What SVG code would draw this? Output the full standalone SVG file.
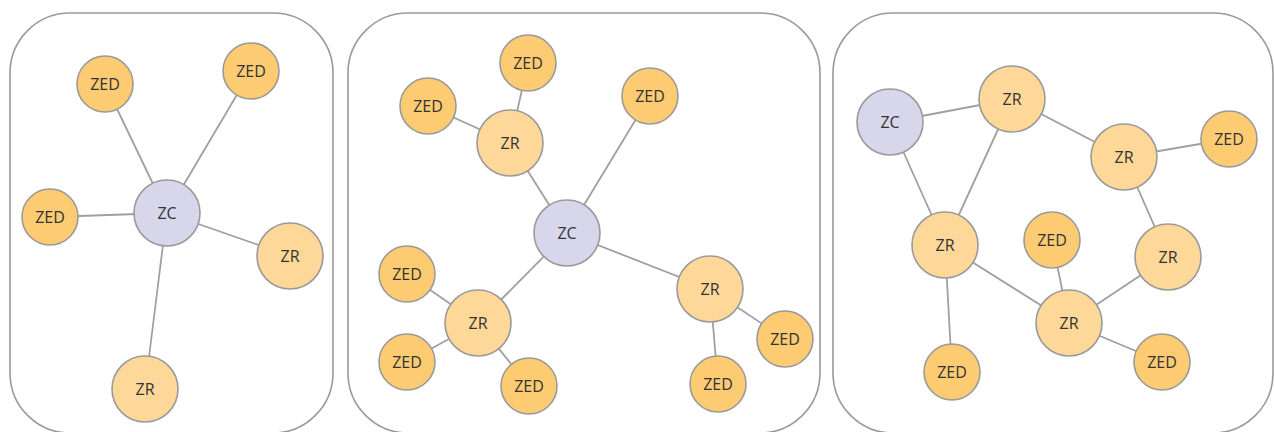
<svg xmlns="http://www.w3.org/2000/svg" width="1274" height="432" viewBox="0 0 1274 432">
<style>
.box{fill:none;stroke:#9a9a9a;stroke-width:1.6}
.e line{stroke:#a0a0a0;stroke-width:1.8}
.zed{fill:#fdcb72;stroke:#9a9a9a;stroke-width:1.6}
.zr{fill:#fed898;stroke:#9a9a9a;stroke-width:1.6}
.zc{fill:#d8d6ea;stroke:#9a9a9a;stroke-width:1.6}
text{font-family:"Open Sans","Liberation Sans",sans-serif;font-size:16px;fill:#333;text-anchor:middle;dominant-baseline:central}
</style>
<rect id="panel1" class="box" x="10" y="13" width="323" height="420" rx="60"/>
<rect id="panel2" class="box" x="348" y="13" width="472" height="420" rx="60"/>
<rect id="panel3" class="box" x="833" y="13" width="440" height="420" rx="60"/>
<g id="connectors" class="e">
<line x1="167" y1="213" x2="105" y2="84"/>
<line x1="167" y1="213" x2="251" y2="71"/>
<line x1="167" y1="213" x2="50" y2="217"/>
<line x1="167" y1="213" x2="290" y2="256"/>
<line x1="167" y1="213" x2="145" y2="389"/>
<line x1="510" y1="143" x2="528" y2="63"/>
<line x1="510" y1="143" x2="428" y2="106"/>
<line x1="510" y1="143" x2="567" y2="233"/>
<line x1="567" y1="233" x2="650" y2="96"/>
<line x1="567" y1="233" x2="478" y2="323"/>
<line x1="567" y1="233" x2="710" y2="289"/>
<line x1="478" y1="323" x2="407" y2="274"/>
<line x1="478" y1="323" x2="407" y2="362"/>
<line x1="478" y1="323" x2="529" y2="386"/>
<line x1="710" y1="289" x2="785" y2="339"/>
<line x1="710" y1="289" x2="718" y2="384"/>
<line x1="890" y1="122" x2="1012" y2="99"/>
<line x1="890" y1="122" x2="945" y2="245"/>
<line x1="1012" y1="99" x2="945" y2="245"/>
<line x1="1012" y1="99" x2="1124" y2="157"/>
<line x1="1124" y1="157" x2="1229" y2="139"/>
<line x1="1124" y1="157" x2="1168" y2="257"/>
<line x1="1168" y1="257" x2="1069" y2="323"/>
<line x1="945" y1="245" x2="1069" y2="323"/>
<line x1="1052" y1="240" x2="1069" y2="323"/>
<line x1="1069" y1="323" x2="1162" y2="362"/>
<line x1="945" y1="245" x2="952" y2="372"/>
</g>
<g id="p1-zed1"><circle class="zed" cx="105" cy="84" r="28"/><text x="105" y="84">ZED</text></g>
<g id="p1-zed2"><circle class="zed" cx="251" cy="71" r="28"/><text x="251" y="71">ZED</text></g>
<g id="p1-zed3"><circle class="zed" cx="50" cy="217" r="28"/><text x="50" y="217">ZED</text></g>
<g id="p1-zc"><circle class="zc" cx="167" cy="213" r="33"/><text x="167" y="213">ZC</text></g>
<g id="p1-zr1"><circle class="zr" cx="290" cy="256" r="33"/><text x="290" y="256">ZR</text></g>
<g id="p1-zr2"><circle class="zr" cx="145" cy="389" r="33"/><text x="145" y="389">ZR</text></g>
<g id="p2-zed1"><circle class="zed" cx="528" cy="63" r="28"/><text x="528" y="63">ZED</text></g>
<g id="p2-zed2"><circle class="zed" cx="428" cy="106" r="28"/><text x="428" y="106">ZED</text></g>
<g id="p2-zr1"><circle class="zr" cx="510" cy="143" r="33"/><text x="510" y="143">ZR</text></g>
<g id="p2-zed3"><circle class="zed" cx="650" cy="96" r="28"/><text x="650" y="96">ZED</text></g>
<g id="p2-zc"><circle class="zc" cx="567" cy="233" r="33"/><text x="567" y="233">ZC</text></g>
<g id="p2-zed4"><circle class="zed" cx="407" cy="274" r="28"/><text x="407" y="274">ZED</text></g>
<g id="p2-zr2"><circle class="zr" cx="478" cy="323" r="33"/><text x="478" y="323">ZR</text></g>
<g id="p2-zed5"><circle class="zed" cx="407" cy="362" r="28"/><text x="407" y="362">ZED</text></g>
<g id="p2-zed6"><circle class="zed" cx="529" cy="386" r="28"/><text x="529" y="386">ZED</text></g>
<g id="p2-zr3"><circle class="zr" cx="710" cy="289" r="33"/><text x="710" y="289">ZR</text></g>
<g id="p2-zed7"><circle class="zed" cx="785" cy="339" r="28"/><text x="785" y="339">ZED</text></g>
<g id="p2-zed8"><circle class="zed" cx="718" cy="384" r="28"/><text x="718" y="384">ZED</text></g>
<g id="p3-zc"><circle class="zc" cx="890" cy="122" r="33"/><text x="890" y="122">ZC</text></g>
<g id="p3-zr1"><circle class="zr" cx="1012" cy="99" r="33"/><text x="1012" y="99">ZR</text></g>
<g id="p3-zr2"><circle class="zr" cx="1124" cy="157" r="33"/><text x="1124" y="157">ZR</text></g>
<g id="p3-zed1"><circle class="zed" cx="1229" cy="139" r="28"/><text x="1229" y="139">ZED</text></g>
<g id="p3-zr3"><circle class="zr" cx="945" cy="245" r="33"/><text x="945" y="245">ZR</text></g>
<g id="p3-zed2"><circle class="zed" cx="1052" cy="240" r="28"/><text x="1052" y="240">ZED</text></g>
<g id="p3-zr4"><circle class="zr" cx="1168" cy="257" r="33"/><text x="1168" y="257">ZR</text></g>
<g id="p3-zr5"><circle class="zr" cx="1069" cy="323" r="33"/><text x="1069" y="323">ZR</text></g>
<g id="p3-zed3"><circle class="zed" cx="952" cy="372" r="28"/><text x="952" y="372">ZED</text></g>
<g id="p3-zed4"><circle class="zed" cx="1162" cy="362" r="28"/><text x="1162" y="362">ZED</text></g>
</svg>
